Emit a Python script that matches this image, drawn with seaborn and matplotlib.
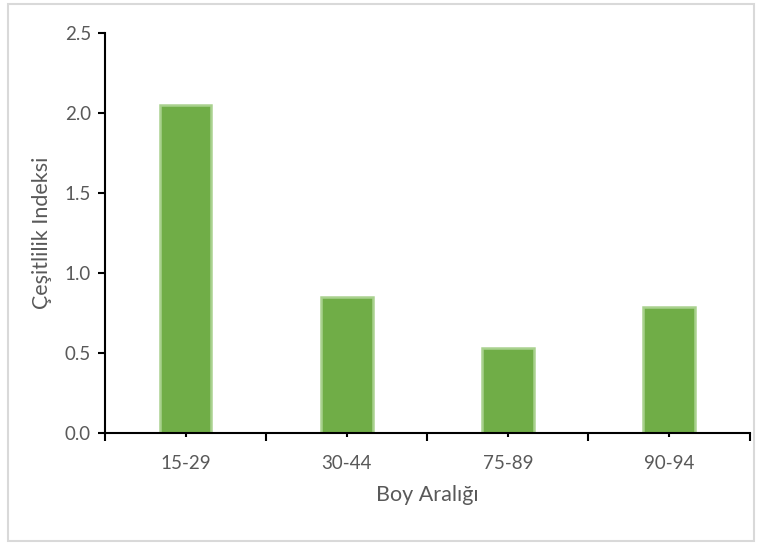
import matplotlib
matplotlib.use("Agg")
import matplotlib.pyplot as plt
import seaborn as sns
import pandas as pd
from matplotlib.ticker import MultipleLocator, FixedLocator, FormatStrFormatter
from matplotlib.patches import Rectangle

categories = ["15-29", "30-44", "75-89", "90-94"]
values = [2.05, 0.85, 0.53, 0.79]

sns.set_style("white")
plt.rcParams["font.family"] = ["Lato", "DejaVu Sans"]

df = pd.DataFrame({"Boy Aralığı": categories, "Çeşitlilik Indeksi": values})

fig = plt.figure(figsize=(7.62, 5.45), dpi=100)
ax = fig.add_axes([0.1378, 0.2055, 0.846, 0.7339])

sns.barplot(data=df, x="Boy Aralığı", y="Çeşitlilik Indeksi", ax=ax,
            color="#70AD47", width=0.32, saturation=1,
            edgecolor="#A9D18E", linewidth=1.8)

text_color = "#595959"
ax.set_ylim(0, 2.5)
ax.set_xlim(-0.5, len(categories) - 0.5)
ax.yaxis.set_major_locator(MultipleLocator(0.5))
ax.yaxis.set_major_formatter(FormatStrFormatter("%.1f"))
ax.xaxis.set_minor_locator(FixedLocator([i - 0.5 for i in range(len(categories) + 1)]))

for side in ["top", "right"]:
    ax.spines[side].set_visible(False)
for side in ["left", "bottom"]:
    ax.spines[side].set_color("black")
    ax.spines[side].set_linewidth(1.5)

ax.tick_params(axis="y", which="major", direction="out", length=5, width=1.5,
               color="black", labelsize=13.5, labelcolor=text_color, left=True, pad=5)
ax.tick_params(axis="x", which="major", direction="out", length=3, width=1.5,
               color="black", labelsize=13.5, labelcolor=text_color, bottom=True, pad=13)
ax.tick_params(axis="x", which="minor", direction="out", length=6, width=1.5,
               color="black", bottom=True)

ax.set_xlabel("Boy Aralığı", fontsize=15.5, color=text_color, labelpad=9)
ax.set_ylabel("Çeşitlilik Indeksi", fontsize=15.5, color=text_color, labelpad=9)

fig.patches.append(Rectangle((0.01, 0.008), 0.98, 0.984, transform=fig.transFigure,
                             fill=False, edgecolor="#D9D9D9", linewidth=1.5))

fig.savefig("out.png", dpi=100, facecolor="white")
